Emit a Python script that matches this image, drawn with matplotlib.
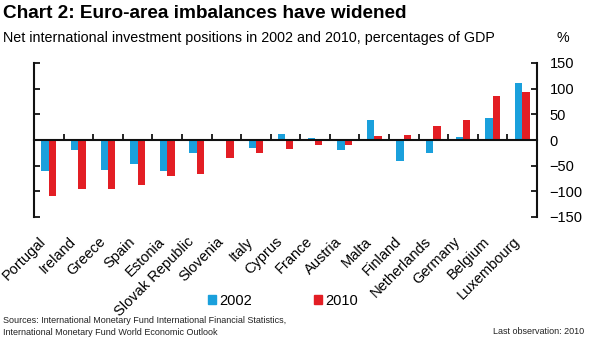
import numpy as np
import matplotlib
matplotlib.use('Agg')
import matplotlib.pyplot as plt
from matplotlib.patches import Patch

plt.rcParams['font.family'] = ['Liberation Sans', 'DejaVu Sans']

# net international investment positions, % of GDP
countries = ['Portugal', 'Ireland', 'Greece', 'Spain', 'Estonia', 'Slovak Republic',
             'Slovenia', 'Italy', 'Cyprus', 'France', 'Austria', 'Malta', 'Finland',
             'Netherlands', 'Germany', 'Belgium', 'Luxembourg']
niip_2002 = [-60, -20, -59, -46, -60, -25, 0, -15, 12, 3, -20, 38, -40, -26, 5, 42, 112]
niip_2010 = [-109, -96, -96, -87, -71, -67, -36, -25, -17, -10, -10, 7, 9, 28, 38, 85, 94]
yticks = [-150, -100, -50, 0, 50, 100, 150]

blue = '#1AA0DC'
red = '#E31E24'

fig = plt.figure(figsize=(6, 3.44), dpi=100)
ax = fig.add_axes([34/600, 1-217/344, (537-34)/600, (217-63)/344])

x = np.arange(len(countries))
w = 0.25
ax.bar(x - w/2, niip_2002, w, color=blue, linewidth=0)
ax.bar(x + w/2, niip_2010, w, color=red, linewidth=0)

ax.set_xlim(-0.5, len(countries) - 0.5)
ax.set_ylim(-150, 150)

# zero line with small separators between countries
ax.spines['top'].set_visible(False)
ax.spines['bottom'].set_position(('data', 0))
for s in ['left', 'right', 'bottom']:
    ax.spines[s].set_linewidth(1.5)
    ax.spines[s].set_color('#111111')
ax.set_xticks(x[:-1] + 0.5)
ax.set_xticklabels([])
ax.set_xticks(x, minor=True)
ax.set_xticklabels(countries, minor=True, rotation=45, ha='right', fontsize=10.5)
ax.tick_params(axis='x', which='major', direction='in', length=4, width=1.2)
ax.tick_params(axis='x', which='minor', length=0, pad=68)

ax.set_yticks(yticks)
ax.yaxis.tick_right()
ax.tick_params(axis='y', direction='in', length=4, width=1.2, labelsize=10.5, pad=9,
               left=True, right=True, labelleft=False, labelright=True)

fig.text(3/600, 1-14/344, 'Chart 2: Euro-area imbalances have widened',
         fontsize=13.7, fontweight='bold', va='center', ha='left')
fig.text(3/600, 1-38/344,
         'Net international investment positions in 2002 and 2010, percentages of GDP',
         fontsize=10.3, va='center', ha='left')
fig.text(563/600, 1-38/344, '%', fontsize=10.3, va='center', ha='center')

handles = [Patch(color=blue), Patch(color=red)]
fig.legend(handles, ['2002', '2010'], loc='center', bbox_to_anchor=(283/600, 1-301/344),
           ncol=2, frameon=False, fontsize=10.5, handlelength=0.55, handleheight=0.55,
           handletextpad=0.25, columnspacing=4.2)

fig.text(3/600, 1-326.5/344,
         'Sources: International Monetary Fund International Financial Statistics,\n'
         'International Monetary Fund World Economic Outlook',
         fontsize=6.5, va='center', ha='left', color='#222222', linespacing=1.3)
fig.text(584/600, 1-332/344, 'Last observation: 2010', fontsize=6.5,
         va='center', ha='right', color='#222222')

fig.savefig('out.png', dpi=100)
